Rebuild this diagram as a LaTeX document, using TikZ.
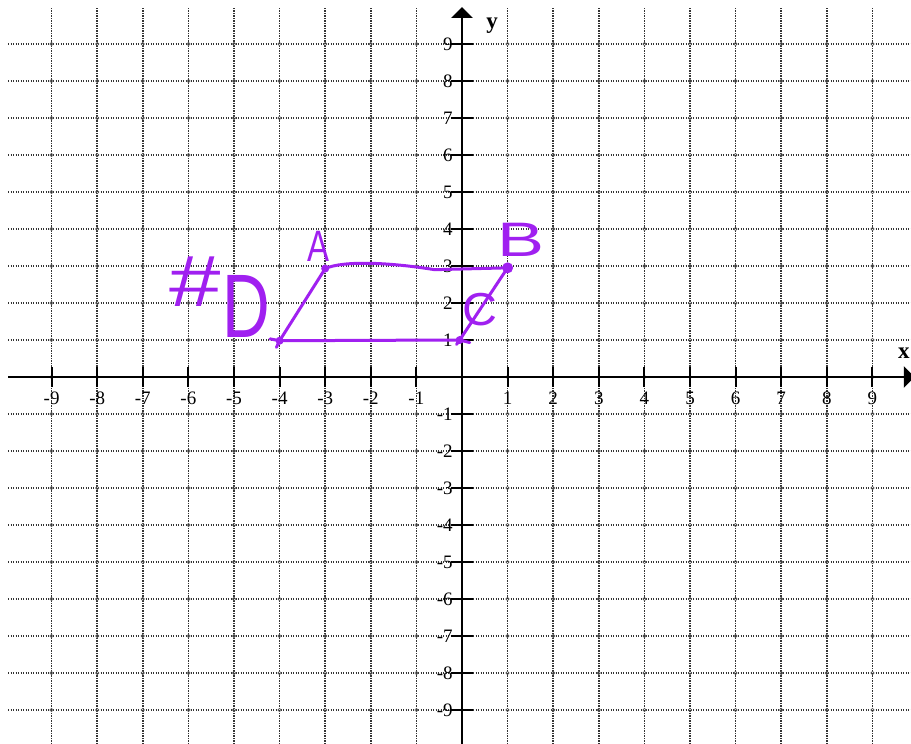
\documentclass[tikz,border=0pt]{standalone}
\usepackage{fontspec}
\setmainfont{Liberation Serif}
\newfontfamily\handfont{Liberation Sans}
\usetikzlibrary{arrows.meta}
\definecolor{pen}{RGB}{160,32,240}
\begin{document}
\begin{tikzpicture}[x=45.6pt,y=37pt,
  gridline/.style={draw=black!80,line width=1.5pt,dash pattern=on 1.3pt off 1.2pt},
  gridknot/.style={draw=black!65,line width=0.6pt},
  axis/.style={line width=2.6pt,-{Triangle[length=11pt,width=21pt]}},
  tickmark/.style={line width=2pt},
  ticklabel/.style={font=\fontsize{19}{19}\selectfont,inner sep=0pt},
  axislabel/.style={font=\fontsize{23}{23}\selectfont\bfseries,inner sep=0pt},
  pencil/.style={draw=pen,line width=3pt,line cap=round,line join=round},
  vertex/.style={circle,fill=pen,inner sep=0pt,minimum size=8pt},
  hand/.style={text=pen,inner sep=0pt,font=\handfont\fontsize{44}{44}\selectfont}]
\useasboundingbox (-10.1316,-9.9189) rectangle (9.8465,10.189);
% grid
\foreach \i in {-9,...,9}{
  \draw[gridline] (\i,-9.92) -- (\i,10.0);
  \draw[gridline] (-9.956,\i) -- (9.85,\i);
}
\foreach \i in {-9,...,9}{
  \foreach \j in {-9,...,9}{
    \draw[gridknot] (\i,\j) circle (1.7pt);
  }
}
% axes
\coordinate (xstart) at (-9.956,0);
\coordinate (xend) at (9.93,0);
\coordinate (ystart) at (0,-9.92);
\coordinate (yend) at (0,10.0);
\draw[axis] (xstart) -- (xend);
\draw[axis] (ystart) -- (yend);
\foreach \i in {-9,-8,-7,-6,-5,-4,-3,-2,-1,1,2,3,4,5,6,7,8,9}{
  \draw[tickmark] (\i,-0.27) -- (\i,0.27);
  \node[ticklabel] (xl\i) at (\i,-0.57) {\i};
  \draw[tickmark] (-0.24,\i) -- (0.24,\i);
  \node[ticklabel,anchor=east] (yl\i) at (-0.2,\i) {\i};
}
\node[axislabel] (ylab) at (0.66,9.49) {y};
\node[axislabel] (xlab) at (9.69,0.65) {x};
% parallelogram
\node[vertex] (A) at (-3,2.93) {};
\node[vertex,minimum size=11pt] (B) at (1,2.95) {};
\node[vertex] (C) at (-0.05,1.0) {};
\node[vertex] (D) at (-4,0.98) {};
\coordinate (Dtail) at (-4.07,0.8);
\coordinate (Dlead) at (-4.21,1.03);
\coordinate (Ctail) at (-0.12,0.88);
\coordinate (Cstub) at (0.17,0.93);
\draw[pencil] (A.center) .. controls (-2.6,3.15) and (-1.6,3.1) .. (-0.6,2.9) -- (B.center);
\draw[pencil] (Dlead) -- (D.center) -- (C.center) -- (Cstub);
\draw[pencil] (A.center) -- (D.center) -- (Dtail);
\draw[pencil] (B.center) -- (C.center) -- (Ctail);
% labels
\node[hand] (labA) at (-3.14,3.54) {\scalebox{0.75}[1]{A}};
\node[hand] (labB) at (1.29,3.70) {\scalebox{1.6}[1.1]{B}};
\node[hand] (labC) at (0.39,1.81) {\scalebox{1.1}[1.05]{C}};
\node[hand] (labD) at (-5.31,2.15) {\scalebox{2.1}[1.65]{\#}\hspace{2pt}\raisebox{-31pt}{\scalebox{1.5}[2.05]{D}}};
\end{tikzpicture}
\end{document}
